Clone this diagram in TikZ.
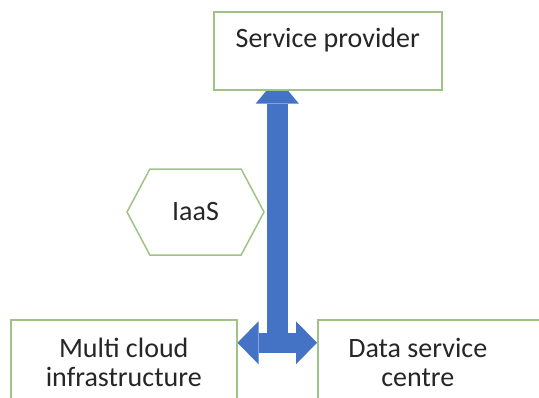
\documentclass[tikz,border=0pt]{standalone}
\usepackage{fontspec}
\setmainfont{Carlito}
\usetikzlibrary{arrows.meta,positioning,shapes.symbols,backgrounds,calc}
\definecolor{boxgreen}{HTML}{9FC386}
\definecolor{arrowblue}{HTML}{4472C4}
\definecolor{textgray}{HTML}{262626}

\begin{document}
\begin{tikzpicture}[
    x=0.5pt, y=-0.5pt,
    box/.style={rectangle,
        draw=boxgreen,
        line width=0.75pt,
        fill=white,
        text=textgray,
        align=center,
        font=\fontsize{14}{14.5}\selectfont,
        inner sep=0pt,
        anchor=north west},
    hexa/.style={signal,
        signal to=west and east,
        signal pointer angle=124,
        draw=boxgreen,
        line width=0.75pt,
        fill=white,
        text=textgray,
        font=\fontsize{14}{14.5}\selectfont,
        minimum width=68.5pt,
        minimum height=43pt,
        inner sep=0pt},
    fat/.style={draw=arrowblue},
    fattip/.tip={Triangle[width=21.5pt,length=10.5pt,line width=0pt]},
    toptip/.tip={Triangle[width=21.5pt,length=13pt,line width=0pt]},
    ]

    \useasboundingbox (0,0) rectangle (539,397);
    \clip (0,0) rectangle (539,397);

    \node [box, minimum width=114pt, text height=14pt, text depth=17pt,
        inner ysep=4pt] (provider) at (213,11) {Service provider};
    \node [box, minimum width=113pt, minimum height=43pt] (multi) at (10,319) {Multi cloud\\infrastructure};
    \node [box, minimum width=112pt, minimum height=43pt] (centre) at (317,319) {Data service\hspace*{12pt}\\centre\hspace*{12pt}};
    \node [hexa] (iaas) at (195.5,212) {IaaS};

    \coordinate (hub) at ($(multi.east)!0.5!(centre.west) + (0,-20)$);

    \begin{scope}[on background layer]
        \draw[fat, line width=10.5pt, -toptip, shorten >=-6.5pt] (hub) -- (hub |- provider.south);
        \draw[fat, line width=10pt, fattip-fattip] (multi.east |- hub) -- (centre.west |- hub);
    \end{scope}
\end{tikzpicture}
\end{document}
